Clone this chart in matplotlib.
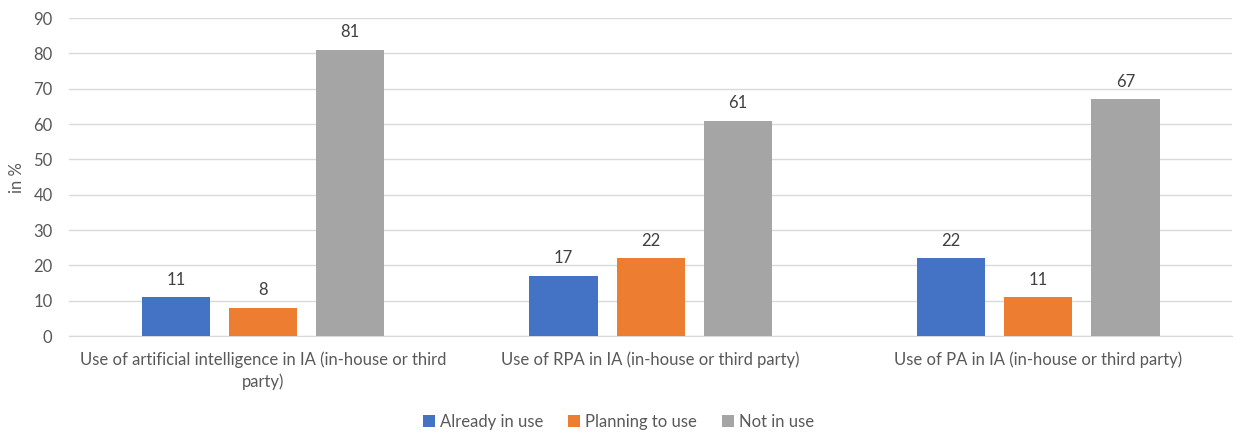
import matplotlib
matplotlib.use("Agg")
import matplotlib.pyplot as plt
import numpy as np

# chart data
categories = ["Use of artificial intelligence in IA (in-house or third\nparty)",
              "Use of RPA in IA (in-house or third party)",
              "Use of PA in IA (in-house or third party)"]
series_names = ["Already in use", "Planning to use", "Not in use"]
already = [11, 17, 22]
planning = [8, 22, 11]
not_in_use = [81, 61, 67]
colors = ["#4472C4", "#ED7D31", "#A5A5A5"]

plt.rcParams['font.family'] = ['Lato', 'DejaVu Sans']
text_color = "#595959"

fig = plt.figure(figsize=(12.37, 4.32), dpi=100)
ax = fig.add_axes([0.056, 0.222, 0.94, 0.736])

x = np.arange(len(categories))
width = 0.176
offsets = [-0.225, 0, 0.225]
for vals, name, col, off in zip([already, planning, not_in_use], series_names, colors, offsets):
    bars = ax.bar(x + off, vals, width, color=col, label=name, zorder=3)
    for b, v in zip(bars, vals):
        ax.annotate(str(v), (b.get_x() + b.get_width() / 2, v), xytext=(0, 7),
                    textcoords="offset points", ha="center", va="bottom",
                    fontsize=12, color="#404040")

ax.set_xlim(-0.5, 2.5)
ax.set_ylim(0, 90)
ax.set_yticks(range(0, 91, 10))
ax.set_xticks(x)
ax.set_xticklabels(categories, fontsize=12, color=text_color, linespacing=1.4)
ax.tick_params(axis="y", labelsize=12, labelcolor=text_color, length=0, pad=12)
ax.tick_params(axis="x", length=0, pad=11)
ax.grid(axis="y", color="#d9d9d9", linewidth=1, zorder=0)
for s in ["top", "right", "left"]:
    ax.spines[s].set_visible(False)
ax.spines["bottom"].set_color("#d9d9d9")
ax.set_ylabel("in %", fontsize=12, color=text_color, labelpad=6)

fig.legend(loc="lower center", bbox_to_anchor=(0.5, -0.03), ncol=3, frameon=False,
           fontsize=12, labelcolor=text_color, handlelength=0.7, handleheight=0.7,
           handletextpad=0.3, columnspacing=1.5)

fig.savefig("out.png", dpi=100)
